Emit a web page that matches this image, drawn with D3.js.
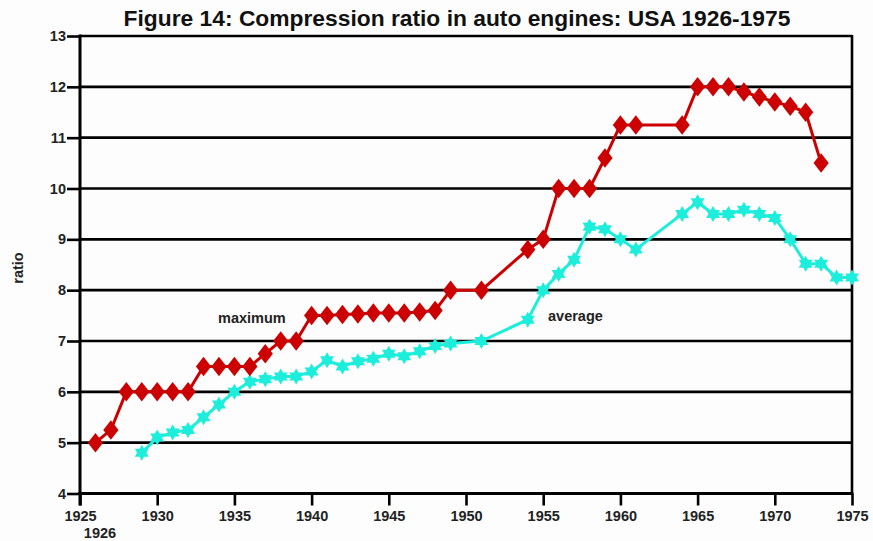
<!DOCTYPE html>
<html>
<head>
<meta charset="utf-8">
<script src="https://cdn.jsdelivr.net/npm/d3@7"></script>
<style>
  body { margin: 0; background: #fdfdfd; }
  svg { display: block; font-family: "Liberation Sans", Arial, sans-serif; }
</style>
</head>
<body>
<svg width="873" height="541"></svg>
<script>
// maximum compression ratio (red diamonds)
const maxYears = [1926, 1927, 1928, 1929, 1930, 1931, 1932, 1933, 1934, 1935, 1936, 1937, 1938, 1939,
  1940, 1941, 1942, 1943, 1944, 1945, 1946, 1947, 1948, 1949, 1951, 1954, 1955, 1956, 1957, 1958,
  1959, 1960, 1961, 1964, 1965, 1966, 1967, 1968, 1969, 1970, 1971, 1972, 1973]
const maxValues = [5.0, 5.25, 6.0, 6.0, 6.0, 6.0, 6.0, 6.5, 6.5, 6.5, 6.5, 6.75, 7.0, 7.0,
  7.5, 7.5, 7.52, 7.53, 7.55, 7.55, 7.55, 7.57, 7.6, 8.0, 8.0, 8.8, 9.0, 10.0, 10.0, 10.0,
  10.6, 11.25, 11.25, 11.25, 12.0, 12.0, 12.0, 11.9, 11.8, 11.7, 11.62, 11.5, 10.5]

// average compression ratio (cyan stars)
const avgYears = [1929, 1930, 1931, 1932, 1933, 1934, 1935, 1936, 1937, 1938, 1939, 1940, 1941, 1942,
  1943, 1944, 1945, 1946, 1947, 1948, 1949, 1951, 1954, 1955, 1956, 1957, 1958, 1959, 1960, 1961,
  1964, 1965, 1966, 1967, 1968, 1969, 1970, 1971, 1972, 1973, 1974, 1975]
const avgValues = [4.8, 5.1, 5.2, 5.25, 5.5, 5.75, 6.0, 6.2, 6.25, 6.3, 6.3, 6.4, 6.62, 6.5,
  6.6, 6.65, 6.75, 6.7, 6.8, 6.9, 6.95, 7.0, 7.42, 8.0, 8.32, 8.6, 9.25, 9.2, 9.0, 8.8,
  9.5, 9.73, 9.5, 9.5, 9.58, 9.5, 9.42, 9.0, 8.52, 8.52, 8.25, 8.25]

const xTicks = [1925, 1930, 1935, 1940, 1945, 1950, 1955, 1960, 1965, 1970, 1975]
const yTicks = [4, 5, 6, 7, 8, 9, 10, 11, 12, 13]

const svg = d3.select("svg")
const x = d3.scaleLinear().domain([1925, 1975]).range([80, 852])
const y = d3.scaleLinear().domain([4, 13]).range([493.5, 36])

// title
svg.append("text")
  .attr("x", 457).attr("y", 26)
  .attr("text-anchor", "middle")
  .attr("font-size", 22.8).attr("font-weight", "bold")
  .attr("fill", "#111")
  .text("Figure 14: Compression ratio in auto engines: USA 1926-1975")

// horizontal grid lines
svg.append("g")
  .selectAll("line")
  .data(yTicks.slice(1))
  .enter().append("line")
  .attr("x1", x(1925)).attr("x2", x(1975))
  .attr("y1", d => y(d)).attr("y2", d => y(d))
  .attr("stroke", "#000").attr("stroke-width", 2.6)

// right border
svg.append("line")
  .attr("x1", x(1975)).attr("x2", x(1975))
  .attr("y1", y(13) - 1).attr("y2", y(4))
  .attr("stroke", "#000").attr("stroke-width", 2.6)

// axes
const xAxis = d3.axisBottom(x).tickValues(xTicks).tickFormat(d3.format("d")).tickSize(12).tickPadding(5)
const yAxis = d3.axisLeft(y).tickValues(yTicks).tickSize(12).tickPadding(2)

const gx = svg.append("g").attr("transform", `translate(0,${y(4)})`).call(xAxis)
const gy = svg.append("g").attr("transform", `translate(${x(1925)},0)`).call(yAxis)

for (const g of [gx, gy]) {
  g.select(".domain").remove()
  g.selectAll(".tick line").attr("stroke", "#000").attr("stroke-width", 2.6)
  g.selectAll(".tick text").attr("font-size", 14.5).attr("font-weight", "bold")
    .attr("fill", "#222").attr("font-family", "Liberation Sans, Arial, sans-serif")
}
gy.selectAll(".tick line").attr("x2", -13)
gx.selectAll(".tick line").attr("y2", 12)

svg.append("line")
  .attr("x1", x(1925) - 2).attr("x2", x(1975) + 1.3)
  .attr("y1", y(4)).attr("y2", y(4))
  .attr("stroke", "#000").attr("stroke-width", 3)
svg.append("line")
  .attr("x1", x(1925)).attr("x2", x(1925))
  .attr("y1", y(13) - 1.5).attr("y2", y(4) + 12)
  .attr("stroke", "#000").attr("stroke-width", 3)

// extra start-year label under 1925
svg.append("text")
  .attr("x", 100).attr("y", 538)
  .attr("text-anchor", "middle")
  .attr("font-size", 14.5).attr("font-weight", "bold").attr("fill", "#222")
  .text("1926")

// y axis title
svg.append("text")
  .attr("transform", `translate(23,${268}) rotate(-90)`)
  .attr("text-anchor", "middle")
  .attr("font-size", 14.5).attr("font-weight", "bold").attr("fill", "#222")
  .text("ratio")

// series
const maxData = maxYears.map((yr, i) => [yr, maxValues[i]])
const avgData = avgYears.map((yr, i) => [yr, avgValues[i]])
const line = d3.line().x(d => x(d[0])).y(d => y(d[1]))

svg.append("path")
  .datum(avgData)
  .attr("d", line)
  .attr("fill", "none").attr("stroke", "#1ceedb").attr("stroke-width", 3)

// six pointed star
function star6(r) {
  const pts = []
  for (let i = 0; i < 12; i++) {
    const a = Math.PI / 6 * i - Math.PI / 2
    const rr = i % 2 === 0 ? r : r * 0.58
    pts.push([rr * Math.cos(a), rr * Math.sin(a)])
  }
  return "M" + pts.map(p => p.join(",")).join("L") + "Z"
}

svg.append("g")
  .selectAll("path")
  .data(avgData)
  .enter().append("path")
  .attr("transform", d => `translate(${x(d[0])},${y(d[1])})`)
  .attr("d", star6(8))
  .attr("fill", "#1ceedb")

svg.append("path")
  .datum(maxData)
  .attr("d", line)
  .attr("fill", "none").attr("stroke", "#cc0000").attr("stroke-width", 3)

svg.append("g")
  .selectAll("path")
  .data(maxData)
  .enter().append("path")
  .attr("d", d3.symbol().type(d3.symbolDiamond).size(110))
  .attr("transform", d => `translate(${x(d[0])},${y(d[1])}) scale(1.35,1)`)
  .attr("fill", "#cc0000")

// series labels
svg.append("text")
  .attr("x", 218).attr("y", 323)
  .attr("font-size", 14.5).attr("font-weight", "bold").attr("fill", "#222")
  .text("maximum")
svg.append("text")
  .attr("x", 548).attr("y", 321)
  .attr("font-size", 14.5).attr("font-weight", "bold").attr("fill", "#222")
  .text("average")
</script>
</body>
</html>
